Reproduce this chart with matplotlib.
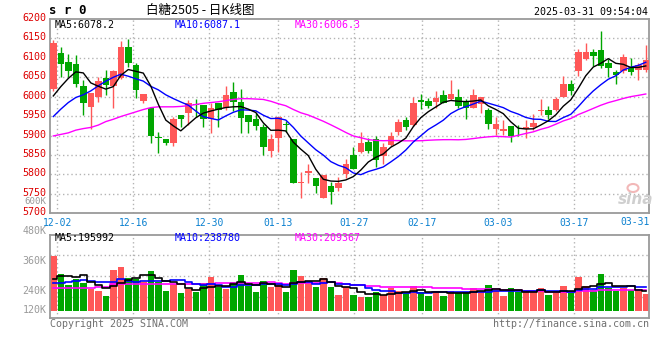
import numpy as np
import pandas as pd
import matplotlib
matplotlib.use('Agg')
import matplotlib.pyplot as plt
from matplotlib.patches import Ellipse
import matplotlib.transforms as mtransforms

# ---------------- data ----------------
dates = ['11-29',
         '12-02', '12-03', '12-04', '12-05', '12-06', '12-09', '12-10', '12-11', '12-12', '12-13',
         '12-16', '12-17', '12-18', '12-19', '12-20', '12-23', '12-24', '12-25', '12-26', '12-27',
         '12-30', '12-31',
         '01-02', '01-03', '01-06', '01-07', '01-08', '01-09', '01-10', '01-13', '01-14', '01-15',
         '01-16', '01-17', '01-20', '01-21', '01-22', '01-23', '01-24', '01-27',
         '02-05', '02-06', '02-07', '02-10', '02-11', '02-12', '02-13', '02-14', '02-17', '02-18',
         '02-19', '02-20', '02-21', '02-24', '02-25', '02-26', '02-27', '02-28',
         '03-03', '03-04', '03-05', '03-06', '03-07', '03-10', '03-11', '03-12', '03-13', '03-14',
         '03-17', '03-18', '03-19', '03-20', '03-21', '03-24', '03-25', '03-26', '03-27', '03-28',
         '03-31']

opens = [6019, 6112, 6089, 6084, 6027, 5974, 6000, 6047, 6028, 6047,
         6128, 6081, 5989, 5972, 5895, 5891, 5880, 5954, 5959, 5981,
         5978, 5942, 5983, 5970, 6013, 5987, 5953, 5942, 5923, 5861,
         5894, 5929, 5890, 5779, 5803, 5790, 5740, 5771, 5764, 5800,
         5850, 5858, 5884, 5891, 5847, 5876, 5910, 5940, 5927, 5991,
         5990, 5987, 6004, 5994, 5998, 5989, 5972, 5981, 5966, 5916,
         5912, 5924, 5918, 5916, 5923, 5964, 5966, 5967, 5998, 6032,
         6067, 6097, 6116, 6120, 6086, 6064, 6067, 6075, 6068, 6068]
highs = [6147, 6128, 6111, 6107, 6043, 6010, 6051, 6068, 6070, 6144,
         6148, 6087, 6007, 5972, 5910, 5891, 5947, 5954, 5991, 5993,
         5978, 5983, 5983, 6027, 6038, 6021, 5953, 5957, 5931, 5903,
         5948, 5937, 5890, 5807, 5827, 5790, 5798, 5781, 5794, 5839,
         5871, 5910, 5895, 5899, 5880, 5910, 5942, 5948, 6000, 6007,
         5996, 6015, 6017, 6044, 6020, 5993, 6021, 5998, 5972, 5947,
         5940, 5924, 5927, 5940, 5955, 5993, 5976, 6000, 6053, 6043,
         6122, 6137, 6122, 6169, 6096, 6068, 6110, 6100, 6086, 6133]
lows = [6015, 6051, 6051, 6026, 5953, 5916, 5987, 6004, 5970, 6045,
        6077, 5996, 5983, 5882, 5856, 5876, 5873, 5923, 5927, 5948,
        5923, 5906, 5923, 5966, 5964, 5906, 5906, 5914, 5850, 5846,
        5858, 5910, 5779, 5740, 5779, 5751, 5740, 5723, 5758, 5790,
        5814, 5854, 5856, 5820, 5827, 5873, 5901, 5914, 5924, 5968,
        5970, 5970, 5983, 5991, 5972, 5942, 5972, 5959, 5918, 5901,
        5901, 5884, 5899, 5895, 5914, 5953, 5942, 5964, 5998, 6004,
        6053, 6094, 6080, 6075, 6051, 6034, 6062, 6056, 6044, 6064]
closes = [6138, 6083, 6067, 6034, 5984, 6010, 6040, 6030, 6066, 6128,
          6086, 6017, 6007, 5899, 5894, 5882, 5943, 5943, 5983, 5978,
          5942, 5970, 5967, 6004, 5987, 5946, 5936, 5924, 5871, 5891,
          5948, 5926, 5779, 5781, 5809, 5771, 5798, 5756, 5777, 5827,
          5814, 5882, 5860, 5837, 5871, 5900, 5936, 5923, 5984, 5987,
          5977, 5997, 5984, 6007, 5977, 5972, 6004, 5998, 5931, 5931,
          5918, 5899, 5916, 5921, 5933, 5967, 5953, 5993, 6032, 6015,
          6116, 6114, 6105, 6080, 6075, 6056, 6101, 6064, 6081, 6094]
volumes_k = [547, 367, 257, 317, 277, 217, 197, 147, 407, 437,
             327, 317, 287, 397, 284, 197, 267, 177, 214, 190,
             274, 337, 234, 220, 287, 357, 250, 187, 297, 237,
             267, 187, 407, 350, 284, 237, 330, 234, 157, 234,
             157, 134, 134, 184, 157, 224, 197, 174, 247, 184,
             147, 197, 147, 197, 174, 190, 224, 190, 257, 207,
             147, 224, 184, 197, 184, 224, 157, 180, 247, 174,
             337, 247, 207, 370, 224, 197, 224, 207, 197, 170]

# moving-average values for bars whose window starts before the first bar
ma5_head = [6002, 6026, 6047, 6064]
ma10_head = [5949, 5968, 5985, 5998, 6005, 6015, 6028, 6040, 6050]
ma30_head = [5899, 5903, 5907, 5914, 5918, 5921, 5927, 5936, 5942, 5949,
             5955, 5961, 5967, 5972, 5974, 5974, 5974, 5975, 5977, 5980,
             5983, 5985, 5987, 5990, 5993, 5995, 5995, 5994, 5993]
vma5_head = [314, 345, 350, 340]
vma10_head = [274, 280, 290, 300, 307, 300, 290, 290, 290]
vma30_head = [230, 230, 231, 231, 232, 232, 233, 234, 265, 266,
              266, 267, 267, 268, 268, 268, 269, 269, 270, 270,
              271, 272, 273, 273, 274, 274, 275, 275, 276]

tick_dates = ['12-02', '12-16', '12-30', '01-13', '01-27', '02-17', '03-03', '03-17']
last_date = '03-31'
price_ticks = [5700, 5750, 5800, 5850, 5900, 5950, 6000, 6050, 6100, 6150, 6200]
vol_labels = ['600K', '480K', '360K', '240K', '120K']
legend_price = ['MA5:6078.2', 'MA10:6087.1', 'MA30:6006.3']
legend_vol = ['MA5:195992', 'MA10:238780', 'MA30:209367']

# ---------------- style ----------------
RED = '#FF5858'
GREEN = '#00A600'
GRID = '#B4B4B4'
BORDER = '#9A9A9A'
MONO = 'DejaVu Sans Mono'
W, H = 660, 360
BAR_PX = 7.5      # pixel pitch of the candles
GRID_PX = 7.6     # the source draws its date grid on a slightly wider pitch


def fp(x, y):
    return x / W, 1 - y / H


def with_head(series, head):
    out = series.copy()
    out.iloc[:len(head)] = head
    return out.values


x = np.arange(len(closes))
o = np.array(opens, float)
c = np.array(closes, float)
hi = np.array(highs, float)
lo = np.array(lows, float)
vol = np.array(volumes_k, float)
up = c >= o
cols = np.where(up, RED, GREEN)

cs = pd.Series(c)
ma5 = with_head(cs.rolling(5).mean(), ma5_head)
ma10 = with_head(cs.rolling(10).mean(), ma10_head)
ma30 = with_head(cs.rolling(30).mean(), ma30_head)
vs = pd.Series(vol)
vma5 = with_head(vs.rolling(5).mean(), vma5_head)
vma10 = with_head(vs.rolling(10).mean(), vma10_head)
vma30 = with_head(vs.rolling(30).mean(), vma30_head)

fig = plt.figure(figsize=(6.6, 3.6), dpi=100)
fig.patch.set_facecolor('white')

ax = fig.add_axes([50 / W, (H - 213.3) / H, 599.3 / W, 194.3 / H])
axv = fig.add_axes([50 / W, (H - 317.7) / H, 599.3 / W, 83 / H])

xlim = (-0.44, 79.47)
first_tick = dates.index(tick_dates[0])
tick_pos = [first_tick - 0.47 + (dates.index(d) - first_tick) * GRID_PX / BAR_PX for d in tick_dates]

for a in (ax, axv):
    a.set_xlim(*xlim)
    for s in a.spines.values():
        s.set_color(BORDER)
        s.set_linewidth(1.3)
    a.set_xticks(tick_pos)
    a.tick_params(length=0)
    a.grid(True, axis='x', linestyle=(0, (1, 2)), color=GRID, linewidth=1)
    a.set_axisbelow(True)

# price panel
ax.set_ylim(5700, 6200)
ax.set_yticks(price_ticks)
ax.set_yticklabels([str(t) for t in price_ticks], color='#DD0000', fontsize=7.2, family=MONO)
ax.tick_params(axis='y', pad=2.8)
off = mtransforms.ScaledTranslation(0, 2 / 100, fig.dpi_scale_trans)
for lab in ax.get_yticklabels():
    lab.set_transform(lab.get_transform() + off)
for yv in price_ticks[1:-1]:
    ax.axhline(yv, linestyle=(0, (1, 2)), color=GRID, linewidth=1, zorder=0)
ax.set_xticklabels(tick_dates, color='#0A80D0', fontsize=7, family=MONO)
ax.tick_params(axis='x', pad=3.2)
ax.text(1.0, -0.02, last_date, transform=ax.transAxes, ha='right', va='top',
        color='#0A80D0', fontsize=7, family=MONO)

ax.vlines(x, lo, hi, colors=cols, linewidth=1, zorder=2)
body_h = np.maximum(np.abs(c - o), 1.6)
ax.bar(x, body_h, bottom=np.minimum(o, c), width=0.86, color=cols, linewidth=0, zorder=3)

ax.plot(x, ma30, color='#FF00FF', linewidth=1, zorder=4)
ax.plot(x, ma10, color='#0000FF', linewidth=1, zorder=4)
ax.plot(x, ma5, color='#000000', linewidth=1, zorder=4)

# volume panel
vlo, vhi = -70, 760
axv.set_ylim(vlo, vhi)
axv.set_yticks([])
axv.set_xticklabels([])
for frac in (0.25, 0.5, 0.75):
    axv.axhline(vlo + frac * (vhi - vlo), linestyle=(0, (1, 2)), color=GRID, linewidth=1, zorder=0)
axv.bar(x, vol, width=0.86, color=cols, linewidth=0, zorder=2)
axv.plot(x, vma30, color='#FF00FF', linewidth=1.2, drawstyle='steps-mid', zorder=3)
axv.plot(x, vma10, color='#0000FF', linewidth=1.2, drawstyle='steps-mid', zorder=3)
axv.plot(x, vma5, color='#000000', linewidth=1.2, drawstyle='steps-mid', zorder=3)

# texts
fig.text(*fp(49, 11), 's r 0', fontsize=9, family=MONO, fontweight='bold', ha='left', va='center')
fig.text(*fp(200, 10), '白糖2505 - 日K线图', fontsize=9,
         family=['Noto Sans CJK SC', 'DejaVu Sans'], ha='center', va='center')
fig.text(*fp(648.5, 12), '2025-03-31 09:54:04', fontsize=7.2, family=MONO, ha='right', va='center')

leg_x = [55, 175, 295]
leg_c = ['#000000', '#0000FF', '#FF00FF']
for lx, t, cc in zip(leg_x, legend_price, leg_c):
    fig.text(*fp(lx, 24.5), t, fontsize=7.2, family=MONO, color=cc, ha='left', va='center')
for lx, t, cc in zip(leg_x, legend_vol, leg_c):
    fig.text(*fp(lx, 238), t, fontsize=7.2, family=MONO, color=cc, ha='left', va='center')

vol_label_y = [202, 230.7, 261, 290.7, 310]
vol_label_size = [6.6, 7.2, 7.2, 7.2, 7.2]
for t, yy, fs in zip(vol_labels, vol_label_y, vol_label_size):
    fig.text(*fp(46.5, yy), t, fontsize=fs, family=MONO, color='#9A9A9A', ha='right', va='center')

fig.text(*fp(50, 324), 'Copyright 2025 SINA.COM', fontsize=7.2, family=MONO, color='#707070',
         ha='left', va='center')
fig.text(*fp(649.5, 324), 'http://finance.sina.com.cn', fontsize=7.2, family=MONO, color='#707070',
         ha='right', va='center')

# sina watermark
fig.text(*fp(636, 199), 'sina', fontsize=11, fontweight='bold', style='italic',
         color='#CFCFCF', ha='center', va='center')
fig.patches.append(Ellipse(fp(633, 188), 11 / W, 8 / H, transform=fig.transFigure,
                           fill=False, edgecolor='#F2B8B8', linewidth=1.5))

fig.savefig('out.png', dpi=100, facecolor='white')
